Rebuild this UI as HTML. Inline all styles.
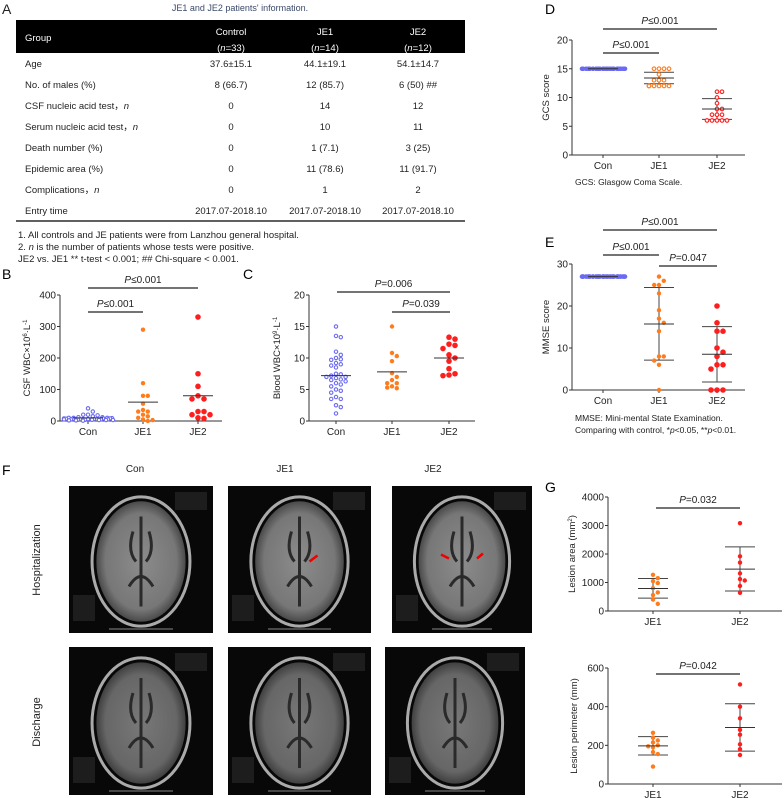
<!DOCTYPE html>
<html><head><meta charset="utf-8">
<style>
html,body{margin:0;padding:0;background:#fff;}
svg{display:block;font-family:"Liberation Sans",Arial,sans-serif;}
</style></head>
<body>
<svg id="fig" width="784" height="798" viewBox="0 0 784 798">
<g font-size="9.5" fill="#222">
  <text x="2" y="14" font-size="14">A</text>
  <text x="240" y="11" text-anchor="middle" font-size="9" fill="#3a4a6a">JE1 and JE2 patients' information.</text>
  <rect x="16" y="20" width="449" height="33" fill="#000"/>
  <g fill="#fff">
    <text x="25" y="41">Group</text>
    <text x="231" y="35" text-anchor="middle">Control</text>
    <text x="231" y="51" text-anchor="middle">(<tspan font-style="italic">n</tspan>=33)</text>
    <text x="325" y="35" text-anchor="middle">JE1</text>
    <text x="325" y="51" text-anchor="middle">(<tspan font-style="italic">n</tspan>=14)</text>
    <text x="418" y="35" text-anchor="middle">JE2</text>
    <text x="418" y="51" text-anchor="middle">(<tspan font-style="italic">n</tspan>=12)</text>
  </g>
  <g id="rows"></g>
  <line x1="16" y1="221" x2="465" y2="221" stroke="#000" stroke-width="1.2"/>
  <text x="18" y="238">1. All controls and JE patients were from Lanzhou general hospital.</text>
  <text x="18" y="250">2. <tspan font-style="italic">n</tspan> is the number of patients whose tests were positive.</text>
  <text x="18" y="262">JE2 vs. JE1 ** t-test &lt; 0.001; ## Chi-square &lt; 0.001.</text>
</g>

<text x="2" y="279" font-size="14">B</text>
<text x="243" y="279" font-size="14">C</text>
<text x="545" y="14" font-size="14">D</text>
<text x="545" y="247" font-size="14">E</text>
<text x="2" y="475" font-size="14">F</text>
<text x="545" y="492" font-size="14">G</text>

<g id="plots"></g>

<g id="mri" font-size="10" fill="#222">
  <text x="135" y="472" text-anchor="middle">Con</text>
  <text x="285" y="472" text-anchor="middle">JE1</text>
  <text x="433" y="472" text-anchor="middle">JE2</text>
  <text transform="translate(40,560) rotate(-90)" text-anchor="middle" font-size="11">Hospitalization</text>
  <text transform="translate(40,722) rotate(-90)" text-anchor="middle" font-size="11">Discharge</text>
</g>

<text x="575" y="185" font-size="8.5" fill="#222">GCS: Glasgow Coma Scale.</text>
<text x="575" y="421" font-size="8.5" fill="#222">MMSE: Mini-mental State Examination.</text>
<text x="575" y="433" font-size="8.5" fill="#222">Comparing with control, *<tspan font-style="italic">p</tspan>&lt;0.05, **<tspan font-style="italic">p</tspan>&lt;0.01.</text>
</svg>

<script>
const tableRows = ["Age","No. of males (%)","CSF nucleic acid test，n","Serum nucleic acid test，n","Death number (%)","Epidemic area (%)","Complications，n","Entry time"];
const tableControl = ["37.6±15.1","8 (66.7)","0","0","0","0","0","2017.07-2018.10"];
const tableJE1 = ["44.1±19.1","12 (85.7)","14","10","1 (7.1)","11 (78.6)","1","2017.07-2018.10"];
const tableJE2 = ["54.1±14.7","6 (50) ##","12","11","3 (25)","11 (91.7)","2","2017.07-2018.10"];

const bCon = [40,30,20,20,18,15,12,12,10,10,10,9,8,8,8,7,7,6,6,6,5,5,5,5,4,4,4,3,3,3,2,2,1];
const bJE1 = [290,120,80,80,55,35,30,30,20,15,10,5,3,0];
const bJE2 = [330,150,110,80,70,70,30,30,20,20,10,8];
const bMeans = [10,60,80];

const cCon = [15,13.5,13.3,11,10.5,10,9.8,9.7,9.2,9,8.8,8.5,7.5,7.4,7.2,7,7,6.8,6.6,6.5,6.3,6,5.8,5.5,5,4.8,4.5,3.8,3.5,3.5,2.5,2.2,1.2];
const cJE1 = [15,10.8,10.3,9.5,7.6,7,6.5,6,6,5.5,5.2,5.3];
const cJE2 = [13.3,13,12.2,12,11.5,10.5,10,9.5,8.3,7.5,7.3,7.2];
const cMeans = [7.2,7.8,10];

const dCon = Array(33).fill(15);
const dJE1 = [15,15,15,15,14,13,13,13,12,12,12,12,12,12];
const dJE2 = [11,11,10,9,8,8,7,7,7,6,6,6,6,6];
const dMeans = [15,13.4,8];
const dLo = [15,12.4,6.2];
const dHi = [15,14.4,9.8];

const eCon = Array(33).fill(27);
const eJE1 = [27,26,25,25,23,19,17,16,14,8,8,7,6,0];
const eJE2 = [20,16,14,14,10,9,8,6,6,5,0,0,0];
const eMeans = [27,15.7,8.5];
const eLo = [27,7.1,1.9];
const eHi = [27,24.4,15.1];

const gaJE1 = [1270,1150,1050,980,800,650,560,400,250];
const gaJE2 = [3080,1920,1700,1320,1120,1070,880,640];
const gaMeans = [790,1470];
const gaLo = [450,700];
const gaHi = [1140,2250];

const gpJE1 = [265,240,215,225,200,190,195,165,155,90];
const gpJE2 = [515,400,340,280,255,205,180,150];
const gpMeans = [197,292];
const gpLo = [150,170];
const gpHi = [245,415];

const NS="http://www.w3.org/2000/svg";
function mk(tag, attrs, parent){const e=document.createElementNS(NS,tag);for(const k in attrs)e.setAttribute(k,attrs[k]);if(parent)parent.appendChild(e);return e;}

const rowsG=document.getElementById('rows');
tableRows.forEach((r,i)=>{
  const y=67+i*21;
  const t=mk('text',{x:25,y:y},rowsG);
  const m=r.match(/^(.*)，n$/);
  if(m){t.textContent=m[1]+'，';const s=mk('tspan',{'font-style':'italic'},t);s.textContent='n';}else t.textContent=r;
  
  
  [[tableControl,231],[tableJE1,325],[tableJE2,418]].forEach(([arr,x])=>{
    const c=mk('text',{x:x,y:y,'text-anchor':'middle'},rowsG);c.textContent=arr[i];
    
    
  });
});

const plots=document.getElementById('plots');
const BLUE="#6b6bf2",ORANGE="#ff7b1c",RED="#ff1e1e";

function plot(o){
  const g=mk('g',{},plots);
  
  
  const sy=v=>o.yb-(v-o.ymin)/(o.ymax-o.ymin)*(o.yb-o.yt);
  mk('line',{x1:o.ax,y1:o.yt,x2:o.ax,y2:o.yb,stroke:'#333','stroke-width':1},g);
  mk('line',{x1:o.ax,y1:o.yb,x2:o.xe,y2:o.yb,stroke:'#333','stroke-width':1},g);
  o.ticks.forEach(t=>{
    const y=sy(t);
    mk('line',{x1:o.ax-3,y1:y,x2:o.ax,y2:y,stroke:'#333'},g);
    const tx=mk('text',{x:o.ax-4,y:y+3.5,'text-anchor':'end','font-size':10,fill:'#222'},g);tx.textContent=t;
    
    
  });
  o.cats.forEach((c,i)=>{
    mk('line',{x1:o.cx[i],y1:o.yb,x2:o.cx[i],y2:o.yb+3,stroke:'#333'},g);
    const tx=mk('text',{x:o.cx[i],y:o.yb+14,'text-anchor':'middle','font-size':10,fill:'#222'},g);tx.textContent=c;
    
    
  });
  const yt=mk('text',{transform:`translate(${o.titleX},${(o.yt+o.yb)/2}) rotate(-90)`,'text-anchor':'middle','font-size':9.5,fill:'#222'},g);
  yt.innerHTML=o.title;
  
  
  if(o.lo){o.lo.forEach((lo,i)=>{
    const x=o.cx[i];
    if(o.hi[i]!==lo){
      mk('line',{x1:x,y1:sy(o.hi[i]),x2:x,y2:sy(lo),stroke:'#444','stroke-width':1},g);
      [lo,o.hi[i]].forEach(v=>mk('line',{x1:x-15,y1:sy(v),x2:x+15,y2:sy(v),stroke:'#444','stroke-width':1},g));
    }
  });}
  o.series.forEach((s,i)=>{
    const placed=[];const r=s.r;const maxOff=s.spread||30;
    s.vals.forEach((v,k)=>{
      const y=sy(v);let off=0,ok=false;
      for(let j=0;j<60;j++){
        off=(j%2?1:-1)*Math.ceil(j/2)*(2*r+0.4);
        if(Math.abs(off)>maxOff)break;
        if(placed.every(p=>Math.hypot(p[0]-off,p[1]-y)>=2*r)){ok=true;break;}
      }
      if(!ok) off=((k*7)%(2*maxOff+1))-maxOff;
      placed.push([off,y]);
      const c=mk('circle',{cx:o.cx[i]+off,cy:y,r:s.open?r-0.5:r,fill:s.open?'#fff':s.color,stroke:s.color,'stroke-width':s.open?1.1:0},g);
      
      
    });
  });
  o.means.forEach((m,i)=>{
    const l=mk('line',{x1:o.cx[i]-15,y1:sy(m),x2:o.cx[i]+15,y2:sy(m),stroke:'#333','stroke-width':1},g);
    
    
  });
  o.brackets.forEach(b=>{
    mk('line',{x1:b.x1,y1:b.y,x2:b.x2,y2:b.y,stroke:'#222','stroke-width':1.2},g);
    const t=mk('text',{x:(b.x1+b.x2)/2,y:b.y-5,'text-anchor':'middle','font-size':10,fill:'#222'},g);
    t.innerHTML='<tspan font-style="italic">P</tspan>'+b.t;
    
    
  });
}

plot({name:'panel-b-csf-wbc',ax:60,xe:222,yt:295,yb:421,ymin:0,ymax:400,ticks:[0,100,200,300,400],cats:['Con','JE1','JE2'],cx:[88,143,198],
  title:'CSF WBC×10<tspan font-size="6" dy="-3">6</tspan><tspan dy="3">·L</tspan><tspan font-size="6" dy="-3">-1</tspan>',titleX:30,
  series:[{vals:bCon,color:BLUE,open:true,r:2.2,spread:25},{vals:bJE1,color:ORANGE,r:2.2},{vals:bJE2,color:RED,r:2.8}],means:bMeans,
  brackets:[{x1:88,x2:198,y:288,t:'≤0.001'},{x1:88,x2:143,y:312,t:'≤0.001'}]});

plot({name:'panel-c-blood-wbc',ax:309,xe:475,yt:295,yb:421,ymin:0,ymax:20,ticks:[0,5,10,15,20],cats:['Con','JE1','JE2'],cx:[336,392,449],
  title:'Blood WBC×10<tspan font-size="6" dy="-3">9</tspan><tspan dy="3">·L</tspan><tspan font-size="6" dy="-3">-1</tspan>',titleX:280,
  series:[{vals:cCon,color:BLUE,open:true,r:2.2,spread:14},{vals:cJE1,color:ORANGE,r:2.2},{vals:cJE2,color:RED,r:2.8}],means:cMeans,
  brackets:[{x1:337,x2:450,y:292,t:'=0.006'},{x1:392,x2:450,y:312,t:'=0.039'}]});

plot({name:'panel-d-gcs',ax:572,xe:745,yt:40,yb:155,ymin:0,ymax:20,ticks:[0,5,10,15,20],cats:['Con','JE1','JE2'],cx:[603,659,717],
  title:'GCS score',titleX:549,
  series:[{vals:dCon,color:BLUE,r:2.3,spread:22},{vals:dJE1,color:ORANGE,open:true,r:2.3,spread:14},{vals:dJE2,color:RED,open:true,r:2.3,spread:14}],means:dMeans,lo:dLo,hi:dHi,
  brackets:[{x1:603,x2:717,y:29,t:'≤0.001'},{x1:603,x2:659,y:53,t:'≤0.001'}]});

plot({name:'panel-e-mmse',ax:572,xe:745,yt:264,yb:390,ymin:0,ymax:30,ticks:[0,10,20,30],cats:['Con','JE1','JE2'],cx:[603,659,717],
  title:'MMSE score',titleX:549,
  series:[{vals:eCon,color:BLUE,r:2.3,spread:22},{vals:eJE1,color:ORANGE,r:2.2,spread:14},{vals:eJE2,color:RED,r:2.8,spread:14}],means:eMeans,lo:eLo,hi:eHi,
  brackets:[{x1:603,x2:717,y:230,t:'≤0.001'},{x1:603,x2:659,y:255,t:'≤0.001'},{x1:659,x2:717,y:266,t:'=0.047'}]});

plot({name:'panel-g-lesion-area',ax:608,xe:782,yt:497,yb:611,ymin:0,ymax:4000,ticks:[0,1000,2000,3000,4000],cats:['JE1','JE2'],cx:[653,740],
  title:'Lesion area (mm<tspan font-size="6" dy="-3">2</tspan><tspan dy="3">)</tspan>',titleX:575,
  series:[{vals:gaJE1,color:ORANGE,r:2.2,spread:12},{vals:gaJE2,color:RED,r:2.2,spread:12}],means:gaMeans,lo:gaLo,hi:gaHi,
  brackets:[{x1:656,x2:740,y:508,t:'=0.032'}]});

plot({name:'panel-g-lesion-perimeter',ax:608,xe:782,yt:668,yb:784,ymin:0,ymax:600,ticks:[0,200,400,600],cats:['JE1','JE2'],cx:[653,740],
  title:'Lesion perimeter (mm)',titleX:577,
  series:[{vals:gpJE1,color:ORANGE,r:2.2,spread:12},{vals:gpJE2,color:RED,r:2.2,spread:12}],means:gpMeans,lo:gpLo,hi:gpHi,
  brackets:[{x1:656,x2:740,y:674,t:'=0.042'}]});

const mri=document.getElementById('mri');
const defs=mk('defs',{},mri);
const rg=mk('radialGradient',{id:'brain'},defs);
mk('stop',{offset:'0%','stop-color':'#8c8c8c'},rg);
mk('stop',{offset:'80%','stop-color':'#777'},rg);
mk('stop',{offset:'100%','stop-color':'#4a4a4a'},rg);
const imgs=[[69,486,144,147,1,0],[228,486,143,147,1,1],[392,486,140,147,1,2],[69,647,144,148,0,0],[228,647,143,148,0,1],[385,647,140,148,0,2]];
imgs.forEach(([x,y,w,h,hosp,col])=>{
  const g=mk('g',{},mri);
  
  
  mk('rect',{x:x,y:y,width:w,height:h,fill:'#080808'},g);
  const cx=x+w/2,cy=y+h/2+2;
  const dim=hosp?1:0.85;
  mk('ellipse',{cx:cx,cy:cy,rx:w*0.34,ry:h*0.44,fill:'none',stroke:'#aaa','stroke-width':3},g);
  mk('ellipse',{cx:cx,cy:cy,rx:w*0.31,ry:h*0.41,fill:'url(#brain)',opacity:dim},g);
  mk('path',{d:`M${cx-8},${cy-30} Q${cx-14},${cy-10} ${cx-5},${cy} M${cx+8},${cy-30} Q${cx+14},${cy-10} ${cx+5},${cy} M${cx-12},${cy+25} Q${cx},${cy+5} ${cx+12},${cy+25} M${cx},${cy-45} L${cx},${cy+45}`,fill:'none',stroke:'#2a2a2a','stroke-width':3},g);
  mk('rect',{x:x+w-38,y:y+6,width:32,height:18,fill:'#444',opacity:0.35},g);
  mk('rect',{x:x+4,y:y+h-38,width:22,height:26,fill:'#444',opacity:0.35},g);
  mk('line',{x1:x+40,y1:y+h-4,x2:x+w-40,y2:y+h-4,stroke:'#888','stroke-width':1},g);
  if(hosp && col===1){mk('line',{x1:cx+10,y1:cy,x2:cx+18,y2:cy-6,stroke:'#e00','stroke-width':2.5},g);}
  if(hosp && col===2){mk('line',{x1:cx-13,y1:cy-3,x2:cx-21,y2:cy-7,stroke:'#e00','stroke-width':2.5},g);mk('line',{x1:cx+15,y1:cy-3,x2:cx+21,y2:cy-8,stroke:'#e00','stroke-width':2.5},g);}
});
</script>
</body></html>
